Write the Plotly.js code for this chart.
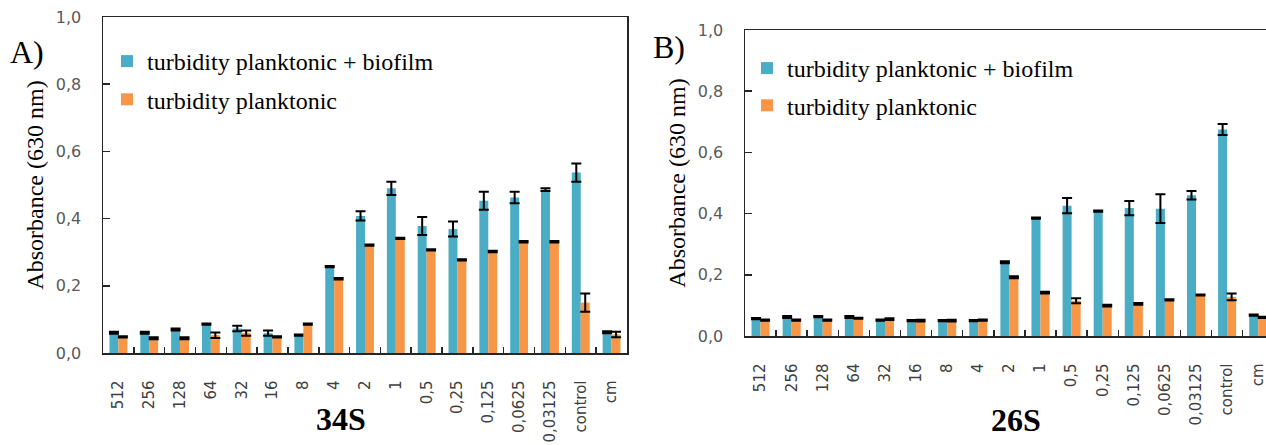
<!DOCTYPE html>
<html>
<head>
<meta charset="utf-8">
<script src="https://cdn.plot.ly/plotly-3.0.1.min.js"></script>
<style>
  html, body { margin: 0; padding: 0; background: #ffffff; overflow: hidden; }
  #chart { width: 1266px; height: 445px; }
</style>
</head>
<body>
<div id="chart"></div>
<script>
// ---- data ----
const categories = ['512','256','128','64','32','16','8','4','2','1','0,5','0,25','0,125','0,0625','0,03125','control','cm'];

// Panel A (34S)
const a_biofilm     = [0.060,0.060,0.070,0.086,0.073,0.059,0.053,0.257,0.408,0.490,0.378,0.369,0.453,0.463,0.486,0.537,0.062];
const a_biofilm_err = [0.003,0.003,0.003,0.002,0.008,0.008,0.002,0.002,0.014,0.020,0.027,0.022,0.027,0.017,0.004,0.027,0.003];
const a_plankt      = [0.048,0.044,0.044,0.053,0.059,0.048,0.086,0.221,0.321,0.341,0.307,0.277,0.302,0.331,0.331,0.150,0.055];
const a_plankt_err  = [0.002,0.003,0.003,0.008,0.008,0.002,0.002,0.002,0.002,0.002,0.002,0.002,0.002,0.002,0.002,0.027,0.008];

// Panel B (26S)
const b_biofilm     = [0.057,0.062,0.063,0.062,0.052,0.050,0.050,0.050,0.241,0.385,0.426,0.408,0.418,0.416,0.460,0.675,0.068];
const b_biofilm_err = [0.002,0.003,0.002,0.003,0.002,0.002,0.002,0.002,0.003,0.002,0.025,0.002,0.023,0.047,0.014,0.018,0.002];
const b_plankt      = [0.052,0.052,0.052,0.058,0.055,0.050,0.050,0.052,0.192,0.142,0.115,0.099,0.105,0.118,0.134,0.128,0.061];
const b_plankt_err  = [0.002,0.002,0.002,0.002,0.003,0.003,0.003,0.002,0.003,0.003,0.008,0.003,0.003,0.002,0.002,0.011,0.002];

const seriesNames = ['turbidity planktonic + biofilm', 'turbidity planktonic'];
const yTickVals = [0, 0.2, 0.4, 0.6, 0.8, 1.0];
const yTickText = ['0,0', '0,2', '0,4', '0,6', '0,8', '1,0'];
const panelLabels = ['A)', 'B)'];
const strainLabels = ['34S', '26S'];
const yTitle = 'Absorbance (630 nm)';

// ---- styling ----
const BLUE = '#4BACC6';
const ORANGE = '#F79646';
const SERIF = 'Liberation Serif, Times New Roman, serif';
const SANS = 'DejaVu Sans, Verdana, sans-serif';

function errObj(arr) {
  return { type: 'data', array: arr, visible: true, color: '#000000', thickness: 2, width: 5 };
}

const traces = [
  { type: 'bar', name: seriesNames[0], x: categories, y: a_biofilm, error_y: errObj(a_biofilm_err),
    marker: { color: BLUE }, xaxis: 'x', yaxis: 'y', legend: 'legend', legendgroup: 'a1' },
  { type: 'bar', name: seriesNames[1], x: categories, y: a_plankt, error_y: errObj(a_plankt_err),
    marker: { color: ORANGE }, xaxis: 'x', yaxis: 'y', legend: 'legend', legendgroup: 'a2' },
  { type: 'bar', name: seriesNames[0], x: categories, y: b_biofilm, error_y: errObj(b_biofilm_err),
    marker: { color: BLUE }, xaxis: 'x2', yaxis: 'y2', legend: 'legend2', legendgroup: 'b1' },
  { type: 'bar', name: seriesNames[1], x: categories, y: b_plankt, error_y: errObj(b_plankt_err),
    marker: { color: ORANGE }, xaxis: 'x2', yaxis: 'y2', legend: 'legend2', legendgroup: 'b2' }
];

const W = 1266, H = 445;
const px = v => v / W;
const py = v => (H - v) / H;

function xAxis(domain, range, anchor) {
  return {
    domain: domain, anchor: anchor, type: 'category', range: range,
    showline: true, linecolor: '#262626', linewidth: 1.5, mirror: true,
    ticks: 'inside', tickson: 'boundaries', ticklen: 6, tickwidth: 1.5, tickcolor: '#262626',
    tickangle: -90, tickfont: { family: SANS, size: 15, color: '#404040' },
    ticklabelstandoff: 20,
    showgrid: false, zeroline: false, fixedrange: true
  };
}
function yAxis(domain, anchor, mirror) {
  return {
    domain: domain, anchor: anchor, range: [0, 1.0],
    tickvals: yTickVals, ticktext: yTickText,
    showline: true, linecolor: '#262626', linewidth: 1.5, mirror: mirror,
    ticks: 'inside', ticklen: 7, tickwidth: 1.5, tickcolor: '#262626',
    tickfont: { family: SANS, size: 16, color: '#595959' },
    ticklabelstandoff: 17,
    showgrid: false, zeroline: false, fixedrange: true,
    title: { text: yTitle, font: { family: SERIF, size: 24, color: '#000000' }, standoff: 5 }
  };
}

const layout = {
  width: W, height: H,
  margin: { l: 0, r: 0, t: 0, b: 0 },
  paper_bgcolor: '#ffffff', plot_bgcolor: '#ffffff',
  barmode: 'group', bargap: 0.42, bargroupgap: 0,
  separators: ', ',
  showlegend: true,
  xaxis:  xAxis([px(103), px(627)], [-0.5, 16.5], 'y'),
  yaxis:  yAxis([py(353), py(17)], 'x', true),
  xaxis2: xAxis([px(745), 1], [-0.5, 16.25], 'y2'),
  yaxis2: yAxis([py(336), py(30)], 'x2', false),
  legend: {
    x: px(107), y: py(39), xanchor: 'left', yanchor: 'top',
    bgcolor: 'rgba(0,0,0,0)', borderwidth: 0, tracegroupgap: 4,
    font: { family: SERIF, size: 24, color: '#000000' }
  },
  legend2: {
    x: px(747), y: py(46), xanchor: 'left', yanchor: 'top',
    bgcolor: 'rgba(0,0,0,0)', borderwidth: 0, tracegroupgap: 3,
    font: { family: SERIF, size: 24, color: '#000000' }
  },
  annotations: [
    { text: panelLabels[0], xref: 'paper', yref: 'paper', x: px(8), y: py(52), xanchor: 'left', yanchor: 'middle',
      showarrow: false, font: { family: SERIF, size: 32, color: '#000000' } },
    { text: panelLabels[1], xref: 'paper', yref: 'paper', x: px(651), y: py(47), xanchor: 'left', yanchor: 'middle',
      showarrow: false, font: { family: SERIF, size: 32, color: '#000000' } },
    { text: '<b>' + strainLabels[0] + '</b>', xref: 'paper', yref: 'paper', x: px(341), y: py(419), xanchor: 'center', yanchor: 'middle',
      showarrow: false, font: { family: SERIF, size: 32, color: '#000000' } },
    { text: '<b>' + strainLabels[1] + '</b>', xref: 'paper', yref: 'paper', x: px(1016), y: py(420), xanchor: 'center', yanchor: 'middle',
      showarrow: false, font: { family: SERIF, size: 32, color: '#000000' } }
  ]
};

Plotly.newPlot('chart', traces, layout, { displayModeBar: false, staticPlot: true });
</script>
</body>
</html>
